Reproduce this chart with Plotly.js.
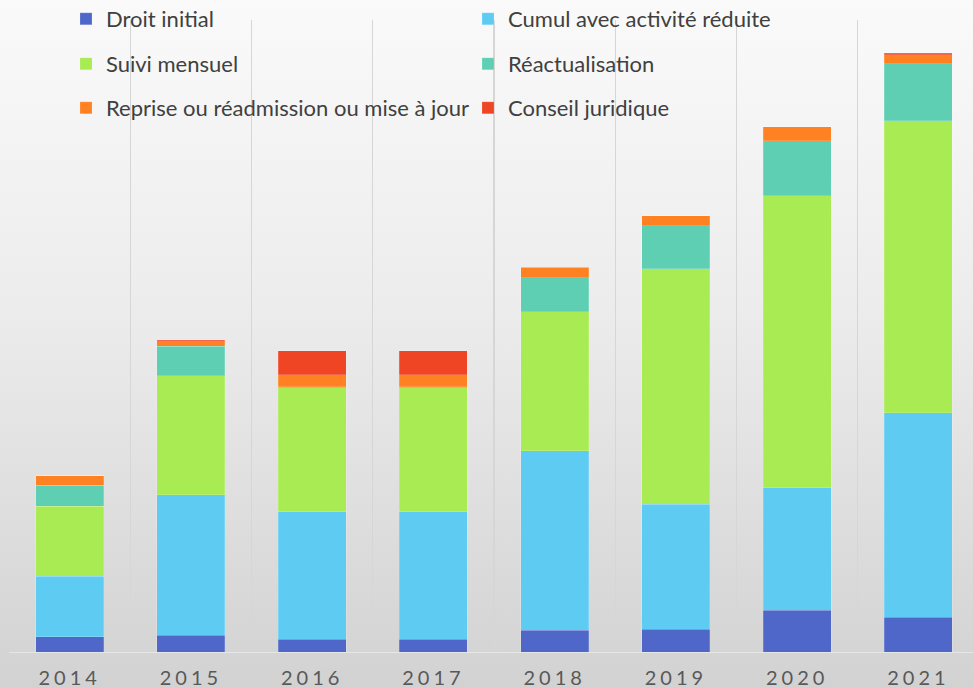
<!DOCTYPE html>
<html>
<head>
<meta charset="utf-8">
<script src="https://cdn.plot.ly/plotly-3.0.1.min.js"></script>
<style>
  html, body { margin: 0; padding: 0; overflow: hidden; width: 973px; height: 688px;
    background: linear-gradient(to bottom, #fafafa 0%, #ececec 45%, #d2d2d2 100%); }
  #chart { width: 980px; height: 688px; }
  .xtick text { letter-spacing: 4px; }
</style>
</head>
<body>
<div id="chart"></div>
<script>
const years = ['2014', '2015', '2016', '2017', '2018', '2019', '2020', '2021'];

const droitInitial   = [15.5, 16.8, 12.8, 12.8, 21.8, 22.8, 41.8, 34.8];
const cumulActivite  = [60.5, 140.4, 127.7, 127.7, 179.7, 125.0, 122.7, 204.4];
const suiviMensuel   = [69.8, 119.0, 123.7, 123.7, 139.0, 235.7, 292.0, 292.0];
const reactualisation= [21.2, 29.8, 1.3, 1.3, 34.0, 43.0, 54.7, 57.0];
const reprise        = [9.5, 5.5, 12.0, 12.0, 10.3, 10.0, 14.0, 9.3];
const conseil        = [0.0, 1.0, 24.0, 24.0, 0.0, 0.0, 0.0, 1.3];

const seriesNames = ['Droit initial', 'Cumul avec activité réduite', 'Suivi mensuel',
                     'Réactualisation', 'Reprise ou réadmission ou mise à jour', 'Conseil juridique'];
const seriesValues = [droitInitial, cumulActivite, suiviMensuel, reactualisation, reprise, conseil];
const seriesColors = ['#4e67c8', '#5ecbf3', '#a8eb52', '#5ecfb3', '#ff8122', '#f04525'];
const legendIds = ['legend', 'legend', 'legend2', 'legend2', 'legend3', 'legend3'];

const traces = seriesNames.map((name, i) => ({
  type: 'bar',
  name: name,
  x: years,
  y: seriesValues[i],
  legend: legendIds[i],
  marker: { color: seriesColors[i], line: { color: 'rgba(255,255,255,0.3)', width: 0.6 } },
  hoverinfo: 'skip'
}));

const legendFont = { family: 'Lato, "Open Sans", sans-serif', size: 22, color: '#404040' };
function mkLegend(ycenter) {
  return {
    orientation: 'h', xref: 'container', yref: 'container',
    x: 66 / 980, xanchor: 'left', y: 1 - ycenter / 688, yanchor: 'middle',
    bgcolor: 'rgba(0,0,0,0)', borderwidth: 0, font: legendFont,
    entrywidth: 357, entrywidthmode: 'pixels', traceorder: 'normal',
    itemclick: false, itemdoubleclick: false
  };
}

const layout = {
  width: 980, height: 688,
  margin: { l: 9, r: 1, t: 20, b: 36, autoexpand: false },
  paper_bgcolor: 'rgba(0,0,0,0)',
  plot_bgcolor: 'rgba(0,0,0,0)',
  barmode: 'stack',
  bargap: 0.44,
  showlegend: true,
  legend: mkLegend(19),
  legend2: mkLegend(64),
  legend3: mkLegend(108),
  xaxis: {
    type: 'category',
    tickson: 'boundaries',
    showgrid: true, gridcolor: '#d6d6d6', gridwidth: 1.2,
    showline: true, linecolor: '#e6e6e6', linewidth: 1,
    ticks: '', ticklabelstandoff: 8,
    tickfont: { family: 'Lato, "Open Sans", sans-serif', size: 20, color: '#595959' },
    fixedrange: true
  },
  yaxis: {
    range: [0, 632],
    showgrid: false, zeroline: false, showticklabels: false, showline: false,
    fixedrange: true
  }
};

Plotly.newPlot('chart', traces, layout, { displayModeBar: false, staticPlot: true });
</script>
</body>
</html>
